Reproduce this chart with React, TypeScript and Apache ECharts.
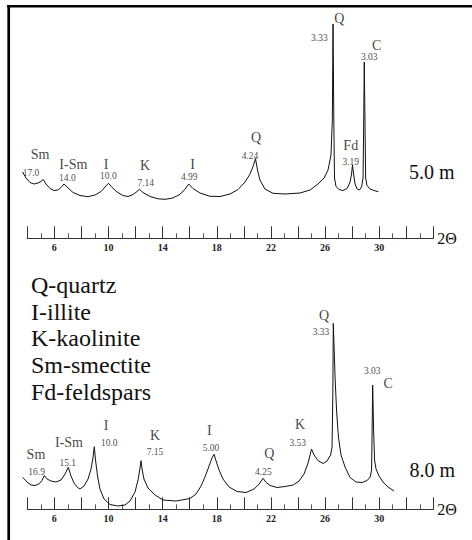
import React, { useEffect, useRef } from 'react';
import * as echarts from 'echarts';

// 2θ (degrees) vs relative intensity — sample at 5.0 m
const SCAN_5M: [number, number][] = [
  [3.66, 33], [3.9, 27], [4.2, 22.5], [4.5, 21], [4.79, 22], [5.01, 23.5], [5.18, 25.5],
  [5.38, 21], [5.68, 16.5], [5.97, 14.5], [6.27, 15], [6.49, 17.5], [6.71, 21],
  [7.01, 17], [7.38, 12.5], [7.89, 9.5], [8.49, 8.3], [9.0, 10], [9.45, 13.5], [9.74, 18], [9.99, 21.7],
  [10.27, 17.5], [10.63, 13], [11.07, 9.5], [11.44, 8.5], [11.81, 10.5], [12.11, 13.5], [12.28, 15.7],
  [12.55, 12.5], [13.07, 8.5], [13.66, 6.2], [14.18, 5.7], [14.7, 6.8], [15.21, 10], [15.58, 14.5], [15.93, 21],
  [16.24, 16.5], [16.76, 12], [17.5, 8.7], [18.24, 8.5], [18.98, 11], [19.57, 15.5], [20.09, 23], [20.46, 31], [20.72, 40], [20.86, 46.5],
  [21.01, 35], [21.19, 25], [21.56, 16], [22.15, 11.7], [23.04, 11], [24.15, 12], [24.89, 15], [25.48, 21], [25.93, 27],
  [26.22, 35], [26.44, 50], [26.54, 85], [26.59, 181], [26.65, 85], [26.7, 27], [26.81, 18.5],
  [27.04, 15.5], [27.33, 14.5], [27.63, 16.5], [27.85, 23], [27.96, 31], [28.03, 40], [28.11, 31], [28.22, 21],
  [28.37, 16], [28.55, 15], [28.7, 18], [28.81, 27], [28.86, 85], [28.9, 143], [28.95, 85], [29.0, 27],
  [29.1, 19.5], [29.32, 16], [29.62, 14.5], [29.94, 13.3],
];

// 2θ (degrees) vs relative intensity — sample at 8.0 m
const SCAN_8M: [number, number][] = [
  [3.66, 37.7], [3.98, 33], [4.27, 30], [4.57, 29.5], [4.86, 31], [5.09, 34.5], [5.26, 39.5],
  [5.46, 36], [5.75, 34], [6.12, 33], [6.49, 35], [6.79, 41], [7.03, 47.7],
  [7.23, 39], [7.45, 32], [7.71, 27.5], [7.89, 26], [8.19, 29], [8.49, 36], [8.71, 46], [8.85, 57], [8.95, 68.3],
  [9.04, 55], [9.19, 39], [9.37, 26], [9.67, 16], [10.11, 10.5], [10.7, 9], [11.22, 10], [11.59, 14],
  [11.96, 23], [12.18, 35], [12.33, 47], [12.4, 54.3], [12.49, 45], [12.62, 36], [12.92, 27], [13.44, 20],
  [14.03, 15], [14.99, 14], [16.02, 16.5], [16.47, 21], [16.84, 29], [17.13, 38], [17.43, 49], [17.65, 57], [17.8, 60.7],
  [17.95, 54], [18.17, 45], [18.46, 36], [18.91, 28], [19.5, 23.5], [20.16, 22.5], [20.76, 26], [21.13, 31], [21.42, 36.7],
  [21.65, 32.5], [21.94, 29.5], [22.46, 27.5], [23.04, 28.5], [23.64, 30], [24.08, 34], [24.45, 41], [24.75, 52], [25.0, 66],
  [25.19, 60], [25.48, 54.5], [25.85, 51.5], [26.15, 54], [26.41, 60], [26.52, 68], [26.58, 125], [26.61, 191.7],
  [26.7, 155], [26.74, 138], [26.85, 105], [26.99, 78], [27.18, 60], [27.48, 48], [27.85, 37.5], [28.29, 33],
  [28.74, 32.5], [29.11, 34.5], [29.33, 38], [29.44, 45], [29.48, 85], [29.52, 130], [29.59, 85], [29.66, 55],
  [29.77, 46], [29.99, 39], [30.28, 33], [30.65, 28], [31.1, 24],
];

// peak annotations: mineral letter and d-spacing (Å), anchored in (2θ, intensity)
const MINERALS_5M: [string, number, number][] = [
  ['Sm', 4.94, 51], ['I-Sm', 7.4, 41], ['I', 9.82, 41], ['K', 12.7, 39.3], ['I', 16.22, 41],
  ['Q', 20.9, 67.7], ['Q', 27.05, 186.7], ['C', 29.82, 160], ['Fd', 27.9, 60],
];
const DSPACING_5M: [string, number, number][] = [
  ['17.0', 4.27, 32.5], ['14.0', 6.96, 26.7], ['10.0', 9.99, 29], ['7.14', 12.75, 21.7], ['4.99', 15.97, 27.7],
  ['4.24', 20.46, 49.3], ['3.33', 25.58, 166.7], ['3.03', 29.27, 148.3], ['3.19', 27.9, 42.7],
];
const MINERALS_8M: [string, number, number][] = [
  ['Sm', 4.64, 61], ['I-Sm', 7.08, 72.3], ['I', 9.82, 89.7], ['K', 13.44, 80], ['I', 17.45, 84.3],
  ['Q', 21.88, 61.7], ['K', 24.15, 91], ['Q', 25.92, 200], ['C', 30.67, 131.7],
];
const DSPACING_8M: [string, number, number][] = [
  ['16.9', 4.69, 43.3], ['15.1', 6.99, 52.3], ['10.0', 10.06, 72.3], ['7.15', 13.44, 63.3], ['5.00', 17.57, 66.7],
  ['4.25', 21.44, 43.3], ['3.53', 23.98, 72.3], ['3.33', 25.7, 183.3], ['3.03', 29.49, 144],
];

const TICK_LABELS = [6, 10, 14, 18, 22, 26, 30];
const KEY_LINES = ['Q-quartz', 'I-illite', 'K-kaolinite', 'Sm-smectite', 'Fd-feldspars'];
const DEPTHS = ['5.0 m', '8.0 m'];

const SERIF = 'Liberation Serif';

function scaleAxis(grid: number) {
  return {
    type: 'value', gridIndex: grid, min: 4, max: 34, interval: 2,
    name: '2Θ', nameLocation: 'end', nameGap: 4,
    nameTextStyle: { fontFamily: SERIF, fontSize: 16, color: '#111' },
    axisLine: { show: true, onZero: false, lineStyle: { color: '#333', width: 1.1 } },
    axisTick: { show: true, inside: true, length: 12, lineStyle: { color: '#333', width: 1 } },
    minorTick: { show: true, splitNumber: 2, length: 5, lineStyle: { color: '#555', width: 1 } },
    splitLine: { show: false },
    minorSplitLine: { show: false },
    axisLabel: {
      margin: 4, fontFamily: SERIF, fontSize: 10, fontWeight: 'bold', color: '#222',
      showMinLabel: true, showMaxLabel: true,
      formatter: (v: number) => (TICK_LABELS.includes(v) ? String(v) : ''),
    },
  };
}

function hiddenX(grid: number) {
  return { type: 'value', gridIndex: grid, min: 3.5, max: 34, show: false };
}

function labelSeries(items: [string, number, number][], axis: number, size: number) {
  return {
    type: 'scatter', xAxisIndex: axis, yAxisIndex: axis, silent: true, clip: false,
    symbol: 'circle', symbolSize: 1, itemStyle: { color: 'transparent' },
    data: items.map(([name, x, y]) => ({ name, value: [x, y] })),
    label: {
      show: true, position: 'inside', formatter: '{b}',
      fontFamily: SERIF, fontSize: size, fontWeight: 'normal', color: '#111',
    },
  };
}

function plainText(text: string, x: number, y: number, size: number, align: string) {
  return {
    type: 'text', x, y, silent: true,
    style: {
      text, fontFamily: SERIF, fontSize: size, fill: '#111',
      align, verticalAlign: 'middle', textAlign: align, textVerticalAlign: 'middle',
    },
  };
}

export default function App() {
  const ref = useRef<HTMLDivElement>(null);
  useEffect(() => {
    if (!ref.current) return;
    const chart = echarts.init(ref.current, undefined, { renderer: 'svg' });
    const option: any = {
      animation: false,
      backgroundColor: '#fff',
      grid: [
        { left: 20.53, right: 38.7, top: 5, height: 200, outerBoundsMode: 'none' },
        { left: 27.3, right: 38.7, top: 200, height: 38.3, outerBoundsMode: 'none' },
        { left: 20.53, right: 38.7, top: 305, height: 210, outerBoundsMode: 'none' },
        { left: 27.3, right: 38.7, top: 470, height: 39.3, outerBoundsMode: 'none' },
      ],
      xAxis: [hiddenX(0), scaleAxis(1), hiddenX(2), scaleAxis(3)],
      yAxis: [
        { type: 'value', gridIndex: 0, min: 0, max: 200, show: false },
        { type: 'value', gridIndex: 1, min: 0, max: 1, show: false },
        { type: 'value', gridIndex: 2, min: 0, max: 210, show: false },
        { type: 'value', gridIndex: 3, min: 0, max: 1, show: false },
      ],
      series: [
        {
          type: 'line', xAxisIndex: 0, yAxisIndex: 0, data: SCAN_5M, showSymbol: false, silent: true,
          lineStyle: { color: '#111', width: 1 },
        },
        {
          type: 'line', xAxisIndex: 2, yAxisIndex: 2, data: SCAN_8M, showSymbol: false, silent: true,
          lineStyle: { color: '#111', width: 1 },
        },
        labelSeries(MINERALS_5M, 0, 14),
        labelSeries(DSPACING_5M, 0, 9.5),
        labelSeries(MINERALS_8M, 2, 14),
        labelSeries(DSPACING_8M, 2, 9.5),
      ],
      graphic: [
        { type: 'line', silent: true, shape: { x1: 7.3, y1: 6.2, x2: 472, y2: 6.2 }, style: { stroke: '#000', lineWidth: 2.5 } },
        { type: 'line', silent: true, shape: { x1: 8.7, y1: 5, x2: 8.7, y2: 540 }, style: { stroke: '#000', lineWidth: 2.7 } },
        plainText(DEPTHS[0], 431.7, 171.7, 20, 'center'),
        plainText(DEPTHS[1], 432.3, 470, 20, 'center'),
        ...KEY_LINES.map((t, i) => plainText(t, 31, 285 + i * 26.7, 24, 'left')),
      ],
    };
    chart.setOption(option);
    return () => chart.dispose();
  }, []);
  return (
    <div
      ref={ref}
      style={{ position: 'absolute', left: 0, top: 0, width: 472, height: 540 }}
    />
  );
}
